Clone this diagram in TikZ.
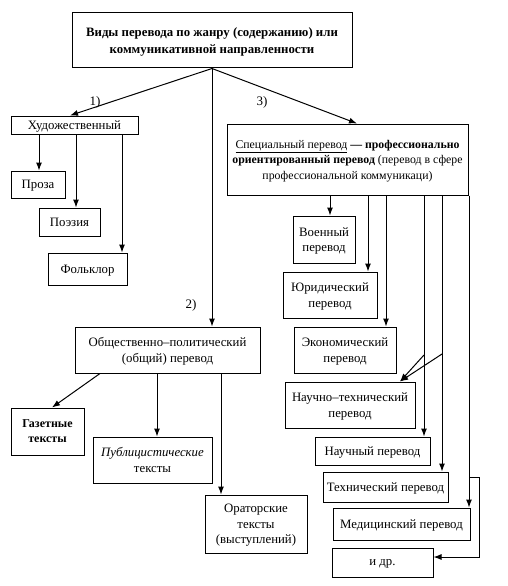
\documentclass[tikz,border=0pt]{standalone}
\usepackage{fontspec}
\setmainfont{Liberation Serif}
\usetikzlibrary{arrows.meta}
\begin{document}
\begin{tikzpicture}[x=1pt,y=-1pt,
  box/.style={draw,line width=1pt,inner sep=0pt,text depth=0pt,align=center,font=\fontsize{12.8}{15.5}\selectfont},
  arr/.style={line width=1pt,-{Latex[length=8pt,width=6pt]}},
  lab/.style={font=\fontsize{13}{14}\selectfont}]
\useasboundingbox (0,0) rectangle (508,586);
% boxes
\node[box,minimum width=280,minimum height=55,font=\fontsize{12.8}{17}\selectfont\bfseries] (top) at (212,40.5) {Виды перевода по жанру (содержанию) или\\коммуникативной направленности};
\node[box,minimum width=127,minimum height=18] (hud) at (74.5,125) {Художественный};
\node[box,minimum width=54,minimum height=27] (proza) at (38,184.5) {Проза};
\node[box,minimum width=61,minimum height=28] (poez) at (69.5,222) {Поэзия};
\node[box,minimum width=79,minimum height=32] (folk) at (87.5,269) {Фольклор};
\node[box,minimum width=185,minimum height=46] (obsh) at (167.5,350) {Общественно–политический\\(общий) перевод};
\node[box,minimum width=73,minimum height=47,font=\fontsize{12}{15}\selectfont\bfseries] (gaz) at (47.5,431.5) {Газетные\\тексты};
\node[box,minimum width=119,minimum height=46] (publ) at (152.5,460) {\textit{Публицистические}\\тексты};
\node[box,minimum width=102,minimum height=58] (orat) at (256,524) {Ораторские\\тексты\\(выступлений)};
\node[box,minimum width=241,minimum height=71,font=\fontsize{11.8}{15.5}\selectfont] (spec) at (347.5,159.5) {\underline{Специальный перевод} \textbf{— профессионально}\\\textbf{ориентированный перевод} (перевод в сфере\\профессиональной коммуникаци)};
\node[box,minimum width=62,minimum height=47] (voen) at (324,239.5) {Военный\\перевод};
\node[box,minimum width=94,minimum height=46] (jur) at (330,295) {Юридический\\перевод};
\node[box,minimum width=102,minimum height=46] (econ) at (345,350) {Экономический\\перевод};
\node[box,minimum width=130,minimum height=46] (nt) at (350,405) {Научно–технический\\перевод};
\node[box,minimum width=115,minimum height=28] (nauch) at (372.5,451) {Научный перевод};
\node[box,minimum width=125,minimum height=30] (tech) at (385.5,487) {Технический перевод};
\node[box,minimum width=137,minimum height=32] (med) at (401.5,524) {Медицинский перевод};
\node[box,minimum width=101,minimum height=29] (idr) at (382.5,562.5) {и др.};
% labels
\node[lab] (l1) at (95,102) {1)};
\node[lab] (l2) at (191,305) {2)};
\node[lab] (l3) at (262,102) {3)};
% connectors from top
\draw[arr] (top.south) -- (hud.north -| 70,0);
\draw[arr] (top.south) -- (obsh.north -| 212,0);
\draw[arr] (top.south) -- (spec.north -| 357,0);
% artistic
\draw[arr] (hud.south -| 39,0) -- (proza.north -| 39,0);
\draw[arr] (hud.south -| 76,0) -- (poez.north -| 76,0);
\draw[arr] (hud.south -| 122,0) -- (folk.north -| 122,0);
% socio-political
\draw[arr] (obsh.south -| 100,0) -- (gaz.north -| 52,0);
\draw[arr] (obsh.south -| 157,0) -- (publ.north -| 157,0);
\draw[arr] (obsh.south -| 221,0) -- (orat.north -| 221,0);
% special
\draw[arr] (spec.south -| 330,0) -- (voen.north -| 330,0);
\draw[arr] (spec.south -| 368,0) -- (jur.north -| 368,0);
\draw[arr] (spec.south -| 386,0) -- (econ.north -| 386,0);
\draw[arr] (spec.south -| 424,0) -- (nauch.north -| 424,0);
\draw[arr] (spec.south -| 442,0) -- (tech.north -| 442,0);
\draw[arr] (spec.south -| 469,0) -- (med.north -| 469,0);
\coordinate (b1) at (424,355);
\coordinate (b2) at (442,354);
\draw[arr] (b1) -- (nt.north -| 400,0);
\draw[arr] (b2) -- (nt.north -| 400,0);
\coordinate (b3) at (469,477);
\coordinate (b4) at (479,477);
\coordinate (b5) at (479,557);
\draw[arr] (b3) -- (b4) -- (b5) -- (idr.east |- b5);
\end{tikzpicture}
\end{document}
